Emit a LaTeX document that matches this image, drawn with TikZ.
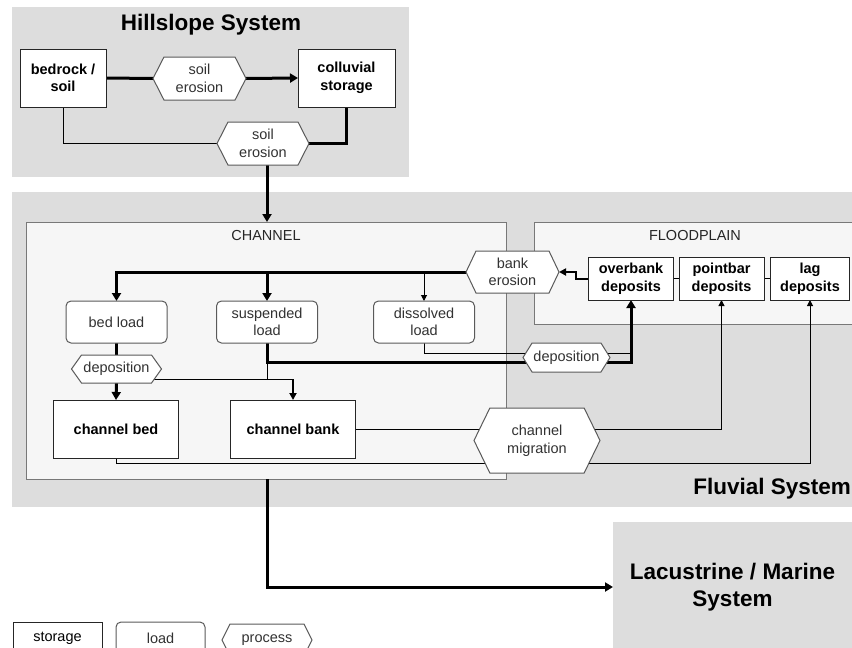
\documentclass[tikz,border=0pt]{standalone}
\usepackage{fontspec}
\setmainfont{Liberation Sans}
\usetikzlibrary{shapes.symbols,arrows.meta}
\definecolor{bggray}{RGB}{221,221,221}
\definecolor{chanfill}{RGB}{246,246,246}
\definecolor{frame}{RGB}{120,120,120}
\definecolor{procline}{RGB}{90,90,90}
\definecolor{txtgray}{RGB}{50,50,50}
\pgfdeclarelayer{back}
\pgfdeclarelayer{edges}
\pgfsetlayers{back,edges,main}
\begin{document}
\begin{tikzpicture}[x=1pt,y=-1pt,
  every node/.style={inner sep=0pt, outer sep=0pt},
  bgarea/.style={fill=bggray, draw=none},
  framebox/.style={fill=chanfill, draw=frame, line width=1pt},
  storage/.style={draw=black!85, fill=white, line width=1pt, align=center,
    font=\fontsize{14.5}{17.5}\selectfont\bfseries},
  loadbox/.style={draw=procline, fill=white, line width=1pt, rounded corners=5pt,
    align=center, text=txtgray, font=\fontsize{14.5}{17.5}\selectfont,
    minimum width=101, minimum height=42},
  procbox/.style={signal, signal to=east and west, draw=procline, fill=white,
    line width=1pt, align=center, text=txtgray,
    font=\fontsize{14.5}{17.5}\selectfont},
  title/.style={font=\fontsize{22.5}{27}\selectfont\bfseries, align=center},
  subtitle/.style={font=\fontsize{14.5}{17.5}\selectfont, text=black!85},
  thk/.style={line width=3pt, -{Triangle[length=8pt,width=9pt]}},
  thkn/.style={line width=3pt},
  med/.style={line width=2pt, -{Triangle[length=7pt,width=7pt]}},
  thn/.style={line width=1pt},
  thna/.style={line width=1pt, -{Triangle[length=6pt,width=6pt]}}
]
\useasboundingbox (0,0) rectangle (852,648);

% ---------- background areas ----------
\begin{pgfonlayer}{back}
  \node[bgarea, minimum width=397, minimum height=170] (hill) at (210.5,92) {};
  \node[bgarea, minimum width=850, minimum height=315] (fluv) at (437,349.5) {};
  \node[framebox, minimum width=480, minimum height=257] (chan) at (266,350.5) {};
  \node[framebox, minimum width=328, minimum height=102] (flood) at (698,273) {};
\end{pgfonlayer}

% ---------- titles ----------
\node[title] (thill) at (211,25) {Hillslope System};
\node[title, anchor=east] (tfluv) at (851,489) {Fluvial System};
\node[subtitle] (tchan) at (266,236) {CHANNEL};
\node[subtitle] (tflood) at (695,236) {FLOODPLAIN};

% ---------- hillslope ----------
\node[storage, minimum width=86, minimum height=58] (bed) at (63,78) {bedrock /\\soil};
\node[storage, minimum width=97, minimum height=58] (coll) at (346.5,78) {colluvial\\storage};
\node[procbox, minimum width=93, minimum height=43, signal pointer angle=126] (se1) at (199.5,78.5) {soil\\erosion};
\node[procbox, minimum width=92, minimum height=43, signal pointer angle=126] (se2) at (263,143.5) {soil\\erosion};

% ---------- channel ----------
\node[loadbox] (bl) at (116.5,322) {bed load};
\node[loadbox] (sl) at (267,322) {suspended\\load};
\node[loadbox] (dl) at (424,322) {dissolved\\load};
\node[procbox, minimum width=90, minimum height=28, signal pointer angle=109] (dep1) at (116.5,369) {deposition};
\node[storage, minimum width=125, minimum height=58] (cbed) at (116,429) {channel bed};
\node[storage, minimum width=125, minimum height=58] (cbank) at (293,429) {channel bank};
\node[procbox, minimum width=93, minimum height=42, signal pointer angle=129] (be) at (512.5,272) {bank\\erosion};
\node[procbox, minimum width=87, minimum height=29, signal pointer angle=116] (dep2) at (566.5,357.5) {deposition};
\node[procbox, minimum width=126, minimum height=65, signal pointer angle=128] (mig) at (537,440.5) {channel\\migration};

% ---------- floodplain ----------
\node[storage, minimum width=85, minimum height=43] (ob) at (631,278.5) {overbank\\deposits};
\node[storage, minimum width=85, minimum height=43] (pb) at (721.5,278.5) {pointbar\\deposits};
\node[storage, minimum width=79, minimum height=43] (lag) at (810,278.5) {lag\\deposits};

% ---------- lacustrine ----------
\node[bgarea, title, minimum width=239, minimum height=130] (lac) at (732.5,587) {Lacustrine / Marine\\System};

% ---------- legend ----------
\node[storage, font=\fontsize{14.5}{17.5}\selectfont, minimum width=89, minimum height=32] (lgs) at (57.5,638) {storage};
\node[loadbox, minimum width=89, minimum height=32] (lgl) at (160.5,638) {load};
\node[procbox, minimum width=90, minimum height=32, signal pointer angle=127] (lgp) at (267,640) {process};

% ---------- connectors ----------
\begin{pgfonlayer}{edges}
  % hillslope
  \draw[thkn] (bed.east) -- (se1.west);
  \draw[thk] (se1.east) -- (coll.west);
  \draw[thn] (bed.south) |- (se2.west);
  \draw[thkn] (coll.south) |- (se2.east);
  \coordinate (hs) at (267,160);
  \draw[thk] (hs) -- (hs |- chan.north);
  % bank erosion to loads
  \draw[thk] (be.west) -| (bl.north);
  \draw[thk] (be.west -| sl.north) -- (sl.north);
  \draw[thna] (be.west -| dl.north) -- (dl.north);
  % bed load to channel bed
  \draw[thkn] (bl.south) -- (dep1.north);
  \draw[thk] (dep1.south) -- (cbed.north);
  % deposition to channel bank
  \coordinate (j1) at (293,379);
  \coordinate (j2) at (267,362);
  \coordinate (j3) at (631,362);
  \coordinate (j4) at (631,353);
  \draw[thn] (dep1.center |- j1) -- (j1);
  \draw[med] (j1) -- (cbank.north);
  \draw[thn] (j2) |- (j1);
  % suspended / dissolved to overbank
  \draw[thn] (dl.south) |- (j4);
  \draw[thk] (sl.south) |- (j3) -- (ob.south);
  % floodplain
  \draw[thn] (ob.east) -- (pb.west);
  \draw[thn] (pb.east) -- (lag.west);
  \draw[med] (ob.west) -- ++(-13,0) |- (be.east);
  % channel migration
  \draw[thna] (cbank.east) -| (pb.south);
  \draw[thna] (cbed.south) -- ++(0,5) -| (lag.south);
  % to lacustrine
  \draw[thk] (sl.south |- chan.south) |- (lac.west);
\end{pgfonlayer}
\end{tikzpicture}
\end{document}
